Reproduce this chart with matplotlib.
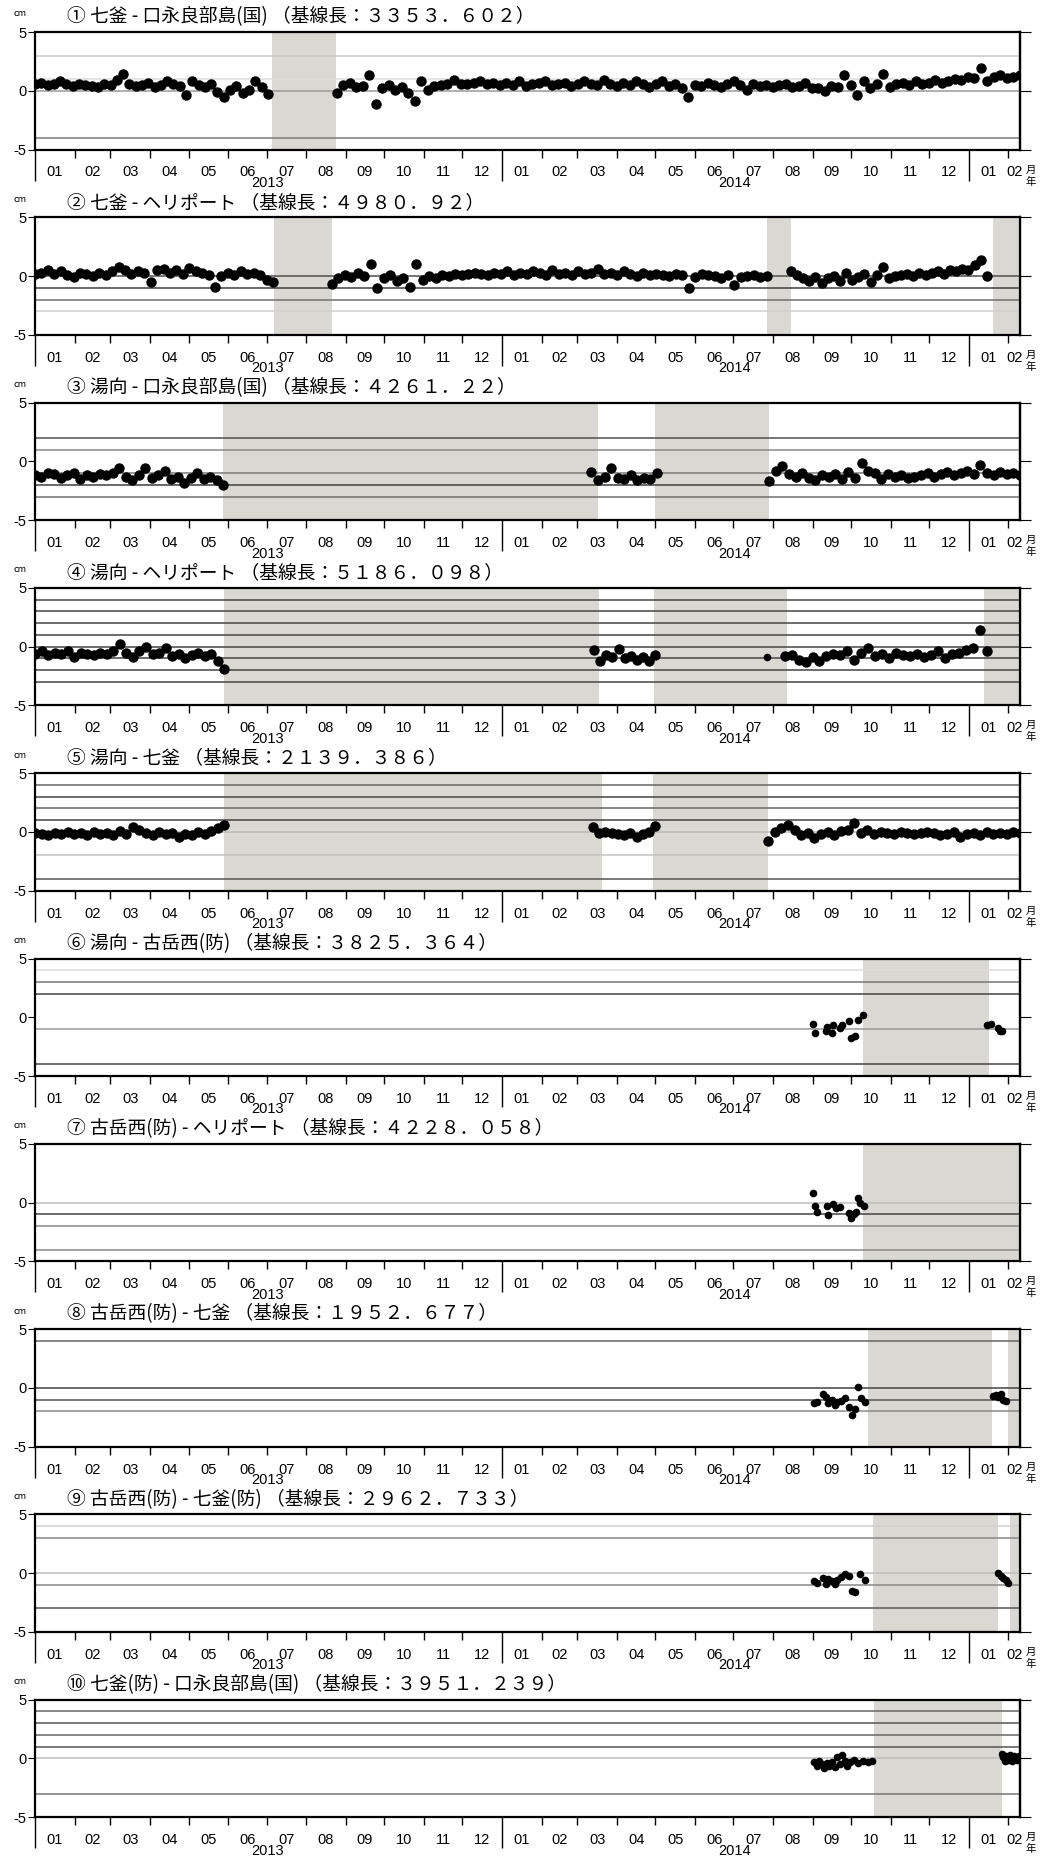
import numpy as np
import pandas as pd
import matplotlib
matplotlib.use("Agg")
import matplotlib.pyplot as plt
import matplotlib.dates as mdates
import matplotlib.transforms as mtransforms
from matplotlib.ticker import FixedLocator, NullFormatter

JP = ['Noto Sans CJK JP', 'DejaVu Sans']
NUM = ['Liberation Sans Narrow', 'Liberation Sans', 'DejaVu Sans']

X0 = pd.Timestamp('2013-01-01')
X1 = pd.Timestamp('2015-02-10')

# ------------------------------------------------------------------
# datos: segmentos continuos (inicio, fin, valores cm)
# ------------------------------------------------------------------
titles = [
    "① 七釜 - 口永良部島(国) （基線長：３３５３．６０２）",
    "② 七釜 - ヘリポート （基線長：４９８０．９２）",
    "③ 湯向 - 口永良部島(国) （基線長：４２６１．２２）",
    "④ 湯向 - ヘリポート （基線長：５１８６．０９８）",
    "⑤ 湯向 - 七釜 （基線長：２１３９．３８６）",
    "⑥ 湯向 - 古岳西(防) （基線長：３８２５．３６４）",
    "⑦ 古岳西(防) - ヘリポート （基線長：４２２８．０５８）",
    "⑧ 古岳西(防) - 七釜 （基線長：１９５２．６７７）",
    "⑨ 古岳西(防) - 七釜(防) （基線長：２９６２．７３３）",
    "⑩ 七釜(防) - 口永良部島(国) （基線長：３９５１．２３９）",
]

p1_a_span = ("2013-01-01", "2013-07-02")
p1_a = [0.6, 0.7, 0.5, 0.6, 0.8, 0.6, 0.4, 0.6, 0.5, 0.4, 0.3, 0.6, 0.5, 0.9, 1.4, 0.6,
        0.4, 0.5, 0.7, 0.3, 0.5, 0.8, 0.6, 0.4, -0.4, 0.8, 0.5, 0.3, 0.6, -0.1, -0.5, 0.1,
        0.4, -0.2, 0.1, 0.8, 0.3, -0.3]
p1_b_span = ("2013-08-25", "2015-02-10")
p1_b = [-0.2, 0.5, 0.7, 0.3, 0.4, 1.3, -1.1, 0.2,
        0.5, 0.1, 0.3, -0.2, -0.9, 0.8,
        0.1, 0.4, 0.5, 0.6, 0.9, 0.6,
        0.6, 0.7, 0.8, 0.6, 0.7, 0.5,
        0.7, 0.5, 0.8, 0.4, 0.6, 0.7,
        0.8, 0.5, 0.6, 0.7, 0.4, 0.6,
        0.8, 0.6, 0.5, 0.9, 0.6, 0.4,
        0.7, 0.5, 0.8, 0.6, 0.3, 0.6,
        0.8, 0.4, 0.6, 0.2, -0.5, 0.5,
        0.4, 0.7, 0.5, 0.3, 0.6, 0.8,
        0.5, 0.1, 0.6, 0.4, 0.5, 0.3,
        0.5, 0.6, 0.3, 0.4, 0.7, 0.2,
        0.2, 0.0, 0.4, 0.3, 1.3, 0.5,
        -0.4, 0.8, 0.2, 0.6, 1.4, 0.3,
        0.6, 0.7, 0.5, 0.8, 0.6, 0.7,
        0.9, 0.7, 0.8, 1.0, 0.9, 1.2,
        1.1, 1.9, 0.8, 1.2, 1.3, 1.1,
        1.2, 1.3]

p2_a_span = ("2013-01-01", "2013-07-06")
p2_a = [0.2, 0.3, 0.5, 0.2, 0.4, 0.1, -0.1, 0.3, 0.2, 0.0, 0.3, 0.1, 0.4, 0.8, 0.5, 0.2,
        0.4, 0.3, -0.5, 0.5, 0.6, 0.3, 0.5, 0.2, 0.7, 0.4, 0.3, 0.1, -0.9, 0.0, 0.3, 0.1,
        0.4, 0.2, 0.3, 0.1, -0.3, -0.5]
p2_b_span = ("2013-08-21", "2014-07-27")
p2_b = [-0.7, -0.2, 0.1, -0.1, 0.3, 0.0, 1.0, -1.0, -0.2, 0.1,
        -0.4, -0.2, -0.9, 1.0, -0.3, 0.0, -0.2, 0.1, 0.0, 0.2,
        0.1, 0.2, 0.3, 0.2, 0.1, 0.3, 0.2, 0.4, 0.1, 0.3,
        0.2, 0.4, 0.3, 0.1, 0.5, 0.2, 0.3, 0.1, 0.4, 0.2,
        0.3, 0.6, 0.2, 0.3, 0.1, 0.4, 0.2, 0.0, 0.3, 0.1,
        0.2, 0.1, 0.0, 0.2, 0.1, -1.0, -0.1, 0.2, 0.1, 0.0,
        -0.2, 0.1, -0.8, -0.1, 0.0, 0.1, -0.1, 0.0]
p2_c_span = ("2014-08-15", "2015-01-15")
p2_c = [0.4, 0.1, -0.2, -0.4, -0.1, -0.6, -0.2, 0.0, -0.4, 0.3, -0.3, -0.1, 0.2, -0.5,
        0.1, 0.8, -0.2, 0.0, 0.1, 0.2, 0.0, 0.3, 0.1, 0.3, 0.4, 0.2, 0.5, 0.4, 0.6, 0.5,
        0.9, 1.4, 0.0]

p3_a_span = ("2013-01-01", "2013-05-28")
p3_a = [-1.2, -1.3, -1.0, -1.1, -1.4, -1.2, -1.0, -1.5, -1.2, -1.3, -1.1, -1.2, -1.0,
        -0.6, -1.3, -1.6, -1.2, -0.6, -1.4, -1.2, -0.8, -1.5, -1.3, -1.8, -1.4, -1.0,
        -1.5, -1.3, -1.6, -2.0]
p3_b_span = ("2014-03-12", "2014-05-02")
p3_b = [-0.9, -1.6, -1.3, -0.6, -1.4, -1.5, -1.2, -1.6, -1.4, -1.5, -1.0]
p3_c_span = ("2014-07-29", "2015-02-10")
p3_c = [-1.7, -0.8, -0.4, -1.1, -1.3, -1.0, -1.4, -1.6, -1.2, -1.3, -1.1, -1.5, -0.9,
        -1.4, -0.1, -0.8, -1.0, -1.5, -1.1, -1.3, -1.2, -1.4, -1.3, -1.2, -1.0, -1.3,
        -1.1, -0.9, -1.2, -1.0, -0.8, -1.1, -0.3, -1.0, -1.2, -0.9, -1.1, -1.0, -1.2]

p4_a_span = ("2013-01-01", "2013-05-29")
p4_a = [-0.6, -0.4, -0.7, -0.5, -0.6, -0.4, -0.9, -0.5, -0.6, -0.7, -0.5, -0.6, -0.4,
        0.2, -0.5, -0.9, -0.4, 0.0, -0.6, -0.5, -0.1, -0.8, -0.6, -1.0, -0.7, -0.5,
        -0.8, -0.6, -1.2, -1.9]
p4_b_span = ("2014-03-14", "2014-05-01")
p4_b = [-0.3, -1.2, -0.7, -0.9, -0.2, -1.0, -0.8, -1.1, -0.9, -1.2, -0.7]
p4_c_span = ("2014-08-10", "2015-01-15")
p4_c = [-0.8, -0.7, -1.1, -1.3, -0.9, -1.2, -0.8, -0.6, -0.7, -0.4, -1.1, -0.5, -0.1,
        -0.8, -0.6, -1.0, -0.5, -0.7, -0.8, -0.6, -0.9, -0.7, -0.4, -1.0, -0.6, -0.5,
        -0.3, -0.1, 1.4, -0.4]
p4_pts_dates = ["2014-07-27"]
p4_pts = [-0.9]

p5_a_span = ("2013-01-01", "2013-05-29")
p5_a = [-0.1, -0.2, -0.3, -0.1, -0.2, 0.0, -0.2, -0.1, -0.3, 0.0, -0.2, -0.1, -0.3, 0.1,
        -0.2, 0.4, 0.2, -0.1, -0.3, 0.0, -0.2, -0.1, -0.4, -0.2, -0.3, 0.0, -0.2, 0.1,
        0.3, 0.6]
p5_b_span = ("2014-03-13", "2014-05-01")
p5_b = [0.4, -0.1, 0.0, -0.1, -0.2, -0.3, -0.1, -0.4, -0.2, 0.0, 0.5]
p5_c_span = ("2014-07-28", "2015-02-10")
p5_c = [-0.8, 0.0, 0.3, 0.6, 0.2, -0.3, -0.1, -0.5, -0.2, 0.0, -0.3, 0.1, 0.2, 0.8, -0.1,
        0.2, -0.2, 0.0, -0.1, -0.2, 0.0, -0.1, -0.2, -0.1, 0.0, -0.1, -0.3, -0.2, 0.0,
        -0.4, -0.2, -0.1, -0.3, 0.0, -0.2, -0.1, -0.2, 0.0, -0.1]

p6_dates = ["2014-09-01", "2014-09-03", "2014-09-11", "2014-09-12", "2014-09-16",
            "2014-09-17", "2014-09-22", "2014-09-24", "2014-09-29", "2014-10-01",
            "2014-10-04", "2014-10-06", "2014-10-10",
            "2015-01-15", "2015-01-18", "2015-01-24", "2015-01-25", "2015-01-27"]
p6_vals = [-0.6, -1.3, -1.2, -0.8, -1.3, -0.7, -0.9, -0.7, -0.3, -1.8, -1.6, -0.2, 0.2,
           -0.7, -0.6, -0.9, -1.2, -1.2]

p7_dates = ["2014-09-01", "2014-09-03", "2014-09-04", "2014-09-12", "2014-09-13",
            "2014-09-17", "2014-09-19", "2014-09-22", "2014-09-29", "2014-10-01",
            "2014-10-03", "2014-10-05", "2014-10-06", "2014-10-08", "2014-10-11"]
p7_vals = [0.8, -0.3, -0.8, -0.3, -1.1, -0.1, -0.5, -0.4, -0.9, -1.3, -1.0, -0.8, 0.4,
           0.0, -0.3]

p8_dates = ["2014-09-02", "2014-09-04", "2014-09-09", "2014-09-11", "2014-09-13",
            "2014-09-16", "2014-09-18", "2014-09-20", "2014-09-23", "2014-09-26",
            "2014-09-29", "2014-10-02", "2014-10-04", "2014-10-06", "2014-10-09",
            "2014-10-12",
            "2015-01-20", "2015-01-22", "2015-01-24", "2015-01-26", "2015-01-28",
            "2015-01-30"]
p8_vals = [-1.3, -1.2, -0.5, -0.8, -1.3, -1.0, -1.5, -1.2, -1.1, -0.9, -1.6, -2.3, -1.8,
           0.1, -0.9, -1.2,
           -0.7, -0.6, -0.8, -0.5, -1.0, -1.1]

p9_dates = ["2014-09-02", "2014-09-04", "2014-09-09", "2014-09-11", "2014-09-13",
            "2014-09-16", "2014-09-18", "2014-09-20", "2014-09-23", "2014-09-26",
            "2014-09-29", "2014-10-02", "2014-10-04", "2014-10-08", "2014-10-12",
            "2015-01-24", "2015-01-26", "2015-01-28", "2015-01-30", "2015-02-01"]
p9_vals = [-0.7, -0.8, -0.4, -0.9, -0.5, -0.7, -0.9, -0.6, -0.3, -0.1, -0.2, -1.5, -1.6,
           -0.1, -0.6,
           0.0, -0.2, -0.4, -0.6, -0.8]

p10_dates = ["2014-09-02", "2014-09-04", "2014-09-06", "2014-09-08", "2014-09-10",
             "2014-09-12", "2014-09-14", "2014-09-16", "2014-09-18", "2014-09-20",
             "2014-09-22", "2014-09-24", "2014-09-26", "2014-09-28", "2014-09-30",
             "2014-10-03", "2014-10-06", "2014-10-10", "2014-10-14", "2014-10-17",
             "2015-01-27", "2015-01-28", "2015-01-29", "2015-01-30", "2015-01-31",
             "2015-02-01", "2015-02-02", "2015-02-03", "2015-02-04", "2015-02-05",
             "2015-02-06", "2015-02-07", "2015-02-08", "2015-02-09"]
p10_vals = [-0.3, -0.6, -0.2, -0.5, -0.8, -0.4, -0.6, -0.3, -0.7, 0.1, -0.5, 0.3, -0.2,
            -0.6, -0.3, -0.1, -0.4, -0.2, -0.3, -0.2,
            0.4, 0.1, -0.2, 0.2, 0.0, -0.1, 0.3, 0.1, -0.2, 0.2, 0.0, 0.1, -0.1, 0.2]

# periodos sin datos (sombreado)
gaps = [
    [("2013-07-05", "2013-08-24")],
    [("2013-07-07", "2013-08-21"), ("2014-07-27", "2014-08-15"), ("2015-01-20", "2015-02-10")],
    [("2013-05-28", "2014-03-17"), ("2014-05-01", "2014-07-29")],
    [("2013-05-29", "2014-03-18"), ("2014-04-30", "2014-08-12"), ("2015-01-13", "2015-02-10")],
    [("2013-05-29", "2014-03-20"), ("2014-04-29", "2014-07-28")],
    [("2014-10-10", "2015-01-17")],
    [("2014-10-10", "2015-02-10")],
    [("2014-10-14", "2015-01-19"), ("2015-02-01", "2015-02-10")],
    [("2014-10-18", "2015-01-24"), ("2015-02-02", "2015-02-10")],
    [("2014-10-19", "2015-01-27")],
]

# lineas horizontales de referencia (valor, color)
ref_lines = [
    [(3, '#c8c8c8'), (1, '#dedede'), (0, '#9a9a9a'), (-4, '#7a7a7a')],
    [(0, '#505050'), (-1, '#404040'), (-2, '#707070'), (-3, '#cfcfcf')],
    [(2, '#505050'), (1, '#8a8a8a'), (-1, '#7a7a7a'), (-2, '#404040'), (-3, '#707070')],
    [(4, '#454545'), (3, '#454545'), (2, '#454545'), (1, '#454545'), (0, '#454545'),
     (-1, '#454545'), (-2, '#454545'), (-3, '#454545')],
    [(4, '#666666'), (3, '#444444'), (2, '#666666'), (1, '#444444'), (0, '#bbbbbb'),
     (-2, '#c4c4c4'), (-4, '#555555')],
    [(4, '#dddddd'), (3, '#777777'), (2, '#444444'), (-1, '#999999'), (-4, '#444444')],
    [(0, '#bdbdbd'), (-1, '#444444'), (-2, '#8a8a8a'), (-4, '#8a8a8a')],
    [(4, '#666666'), (0, '#444444'), (-1, '#555555'), (-2, '#8a8a8a')],
    [(4, '#cfcfcf'), (3, '#888888'), (0, '#bdbdbd'), (-1, '#888888'), (-3, '#555555')],
    [(4, '#666666'), (3, '#555555'), (2, '#666666'), (1, '#555555'), (0, '#bdbdbd'),
     (-3, '#777777')],
]

segments = [
    [(p1_a_span, p1_a), (p1_b_span, p1_b)],
    [(p2_a_span, p2_a), (p2_b_span, p2_b), (p2_c_span, p2_c)],
    [(p3_a_span, p3_a), (p3_b_span, p3_b), (p3_c_span, p3_c)],
    [(p4_a_span, p4_a), (p4_b_span, p4_b), (p4_c_span, p4_c)],
    [(p5_a_span, p5_a), (p5_b_span, p5_b), (p5_c_span, p5_c)],
    [], [], [], [], [],
]
points = [
    ([], []), ([], []), ([], []), (p4_pts_dates, p4_pts), ([], []),
    (p6_dates, p6_vals), (p7_dates, p7_vals), (p8_dates, p8_vals),
    (p9_dates, p9_vals), (p10_dates, p10_vals),
]

# ------------------------------------------------------------------
W, H = 1051, 1857
L, R = 35, 1020
TOP0, STEP, PH = 32, 185.3, 117.5
SHADE = '#d9d8d3'

fig = plt.figure(figsize=(W / 100, H / 100), dpi=100)

months = pd.date_range('2013-01-01', '2015-02-01', freq='MS')
years = [pd.Timestamp('2013-01-01'), pd.Timestamp('2014-01-01'), pd.Timestamp('2015-01-01')]

for i in range(10):
    top = TOP0 + i * STEP
    ax = fig.add_axes([L / W, 1 - (top + PH) / H, (R - L) / W, PH / H])
    ax.set_xlim(X0, X1)
    ax.set_ylim(-5, 5)

    for a, b in gaps[i]:
        ax.axvspan(pd.Timestamp(a), pd.Timestamp(b), color=SHADE, lw=0, zorder=1)
    for yv, c in ref_lines[i]:
        ax.axhline(yv, color=c, lw=1.1, zorder=1.5)

    for (s, e), vals in segments[i]:
        fechas = pd.date_range(s, e, periods=len(vals))
        ax.plot(fechas, vals, 'o', color='black', ms=7.5, mew=0, zorder=3)
    pd_, pv = points[i]
    if pd_:
        ax.plot(pd.to_datetime(pd_), pv, 'o', color='black', ms=5.5, mew=0, zorder=3)

    for sp in ax.spines.values():
        sp.set_linewidth(1.6)
        sp.set_zorder(4)

    ax.set_yticks([-5, 0, 5])
    ax.set_yticklabels(['-5', '0', '5'], family=NUM, fontsize=10.5)
    ax.tick_params(axis='y', direction='out', length=5, width=0.8, pad=1)
    sec = ax.secondary_yaxis('right')
    sec.set_yticks([-5, 0, 5])
    sec.set_yticklabels([])
    sec.tick_params(direction='out', length=8, width=0.8)
    sec.spines['right'].set_linewidth(1.6)

    ax.xaxis.set_major_locator(FixedLocator(mdates.date2num(years)))
    ax.xaxis.set_minor_locator(FixedLocator(mdates.date2num(months)))
    ax.xaxis.set_major_formatter(NullFormatter())
    ax.xaxis.set_minor_formatter(NullFormatter())
    ax.tick_params(axis='x', which='major', direction='out', length=22, width=1.0)
    ax.tick_params(axis='x', which='minor', direction='out', length=6, width=1.0)

    trans = mtransforms.blended_transform_factory(ax.transData, ax.transAxes)
    for m in months:
        fin = m + pd.offsets.MonthBegin(1)
        a = max(m, X0)
        b = min(fin, X1)
        mid = a + (b - a) / 2
        ax.text(mdates.date2num(mid), -0.195, f'{m.month:02d}', transform=trans,
                ha='center', va='center', fontsize=10.5, family=NUM)
    for yr in (2013, 2014):
        ax.text(mdates.date2num(pd.Timestamp(yr, 7, 2)), -0.285, str(yr), transform=trans,
                ha='center', va='center', fontsize=10.5, family=NUM)

    fig.text(1031 / W, 1 - (top + PH + 20) / H, '月', family=JP, fontsize=7.5,
             ha='center', va='center')
    fig.text(1031 / W, 1 - (top + PH + 32) / H, '年', family=JP, fontsize=7.5,
             ha='center', va='center')

    fig.text(20 / W, 1 - (top - 18) / H, 'cm', family=JP, fontsize=6.5,
             ha='center', va='center')
    fig.text(67 / W, 1 - (top - 15) / H, titles[i], family=JP, fontsize=13.5,
             ha='left', va='center')

fig.savefig('out.png', dpi=100)
